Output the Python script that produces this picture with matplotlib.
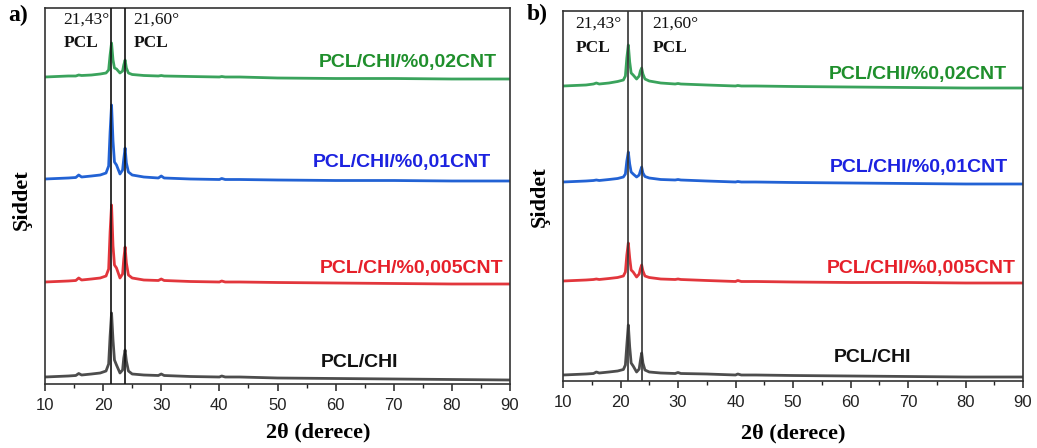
import matplotlib
matplotlib.use("Agg")
import matplotlib.pyplot as plt
from matplotlib.ticker import MultipleLocator

W, H = 1037, 448

# ---------------- data ----------------
two_theta_a = [10, 12, 14, 15.3, 15.8, 16.3, 18, 19.5, 20.5, 20.95, 21.2, 21.45, 21.7, 21.95,
               22.3, 22.9, 23.35, 23.55, 23.78, 24.0, 24.35, 25, 27, 29.5, 30, 30.5, 35, 40,
               40.4, 41, 43.5, 50, 60, 70, 80, 90]
a_pcl_chi = [7, 7.5, 8, 8.5, 10.5, 9, 10, 11, 13, 20, 48, 71, 44, 24,
             19, 11, 14, 26, 34, 23, 13, 10, 9, 8.5, 10, 8.5, 7.5, 7,
             8, 7, 7, 6, 5.5, 5, 4.5, 4]
a_cnt005 = [102, 102.5, 103, 103.5, 106, 104, 105, 106, 108, 115, 152, 179, 138, 119,
            116, 106, 110, 125, 137, 121, 109, 106, 104, 103.5, 105, 103.5, 102.5, 102,
            103, 102, 102, 101.5, 101, 100.5, 100, 100]
a_cnt01 = [205, 205.5, 206, 206.5, 209, 207, 208, 209, 211, 218, 252, 279, 243, 222,
           219, 210, 214, 225, 236, 221, 212, 209, 207, 206, 208, 206, 205, 204.5,
           205.5, 204.5, 204.5, 204, 203.5, 203.5, 203, 203]
a_cnt02 = [307, 307.5, 308, 308, 309, 308.5, 309, 310, 311, 314, 329, 341, 324, 316,
           315, 311, 313, 319, 324, 316, 311, 309.5, 308.5, 308, 308.5, 308, 307.5, 307,
           307.5, 307, 307, 306, 305.5, 305.5, 305, 305]

two_theta_b = [10, 12, 14, 15.3, 15.8, 16.3, 18, 19.5, 20.5, 20.85, 21.1, 21.36, 21.6, 21.85,
               22.2, 22.8, 23.25, 23.45, 23.68, 23.9, 24.25, 25, 27, 29.5, 30, 30.5, 35, 40,
               40.4, 41, 43.5, 50, 60, 70, 80, 90]
b_pcl_chi = [6, 6.5, 7, 7.5, 9, 8, 9, 10, 11.5, 16, 36, 56, 34, 18,
             15, 9, 12, 20, 28, 18, 11, 9, 8, 7.5, 8.5, 7.5, 7, 6,
             7, 6, 6, 5.5, 5, 4.5, 4, 4]
b_cnt005 = [100, 100.5, 101, 101.5, 102, 101.5, 102.5, 103.5, 105, 109, 126, 138, 123, 111,
            109, 104, 107, 112, 116, 110, 105, 103.5, 102, 101.5, 102, 101.5, 100.5, 99.5,
            100.5, 99.5, 99.5, 99, 98.5, 98.5, 98, 98]
b_cnt01 = [199, 199.5, 200, 200.5, 201, 200.5, 201.5, 202.5, 204, 207, 220, 229, 217, 209,
           207, 204, 206, 210, 214, 208, 204.5, 203, 201.5, 201, 201.5, 201, 200, 199,
           199.5, 199, 199, 198.5, 198, 197.5, 197, 197]
b_cnt02 = [295, 295.5, 296, 297, 298, 297, 298, 299.5, 301, 305, 323, 336, 319, 308,
           306, 302, 305, 310, 313, 307, 302, 300, 298, 297, 297.5, 297, 296, 295,
           295.5, 295, 295, 294.5, 294, 293.5, 293, 293]

peak_lines_a = [21.4, 23.8]
peak_lines_b = [21.36, 23.68]
peak_texts = ["21,43°", "21,60°"]

labels_a = ["PCL/CHI", "PCL/CH/%0,005CNT", "PCL/CHI/%0,01CNT", "PCL/CHI/%0,02CNT"]
labels_b = ["PCL/CHI", "PCL/CHI/%0,005CNT", "PCL/CHI/%0,01CNT", "PCL/CHI/%0,02CNT"]

line_colors = ["#4d4d4d", "#e2363c", "#2262d4", "#3aa35c"]
text_colors = ["#111111", "#e6202a", "#1c22e0", "#1f8f2c"]

# ---------------- figure ----------------
fig = plt.figure(figsize=(W / 100, H / 100), dpi=100)


def fx(x):
    return x / W


def fy(y):
    return 1 - y / H


def make_axes(l, t, r, b, ymax):
    ax = fig.add_axes([fx(l), fy(b), (r - l) / W, (b - t) / H])
    ax.set_xlim(10, 90)
    ax.set_ylim(0, ymax)
    ax.set_yticks([])
    ax.xaxis.set_major_locator(MultipleLocator(10))
    ax.xaxis.set_minor_locator(MultipleLocator(5))
    ax.tick_params(axis="x", which="major", direction="out", length=5, width=1.1,
                   labelsize=12, pad=5, colors="#222222", labelcolor="#222222")
    ax.tick_params(axis="x", which="minor", direction="out", length=3, width=1.0,
                   colors="#222222")
    for lab in ax.get_xticklabels():
        lab.set_fontfamily("Liberation Sans")
    for s in ax.spines.values():
        s.set_linewidth(1.2)
        s.set_color("#333333")
    return ax


ax_a = make_axes(45, 8, 510, 384, 376)
ax_b = make_axes(563, 11, 1023, 381, 370)

series_a = [a_pcl_chi, a_cnt005, a_cnt01, a_cnt02]
series_b = [b_pcl_chi, b_cnt005, b_cnt01, b_cnt02]

for ys, c in zip(series_a, line_colors):
    ax_a.plot(two_theta_a, ys, color=c, lw=2.0, solid_joinstyle="round", zorder=2)
for ys, c in zip(series_b, line_colors):
    ax_b.plot(two_theta_b, ys, color=c, lw=2.0, solid_joinstyle="round", zorder=2)

for xv in peak_lines_a:
    ax_a.axvline(xv, color="#111111", lw=1.2, zorder=3)
for xv in peak_lines_b:
    ax_b.axvline(xv, color="#333333", lw=1.2, zorder=3)

sans_bold = dict(fontfamily="Liberation Sans", fontweight="bold", fontsize=14)
serif = dict(fontfamily="Liberation Serif")

# series labels (right aligned)
pos_a = [(398, 362), (503, 268), (491, 162), (497, 62)]
pos_b = [(911, 357), (1016, 268), (1008, 167), (1007, 74)]
for lab, (x, y), c in zip(labels_a, pos_a, text_colors):
    fig.text(fx(x), fy(y), lab, color=c, ha="right", va="center", **sans_bold)
for lab, (x, y), c in zip(labels_b, pos_b, text_colors):
    fig.text(fx(x), fy(y), lab, color=c, ha="right", va="center", **sans_bold)

# peak annotations
for (x1, x2, yt, yp) in [(63, 133, 20, 43), (575, 652, 24, 48)]:
    for x, t in zip((x1, x2), peak_texts):
        fig.text(fx(x), fy(yt), t, ha="left", va="center", fontsize=12.5,
                 color="#111111", **serif)
        fig.text(fx(x + 1), fy(yp), "PCL", ha="left", va="center", fontsize=12.5,
                 fontweight="bold", color="#111111", **serif)

# panel letters
fig.text(fx(8), fy(15), "a)", ha="left", va="center", fontsize=17,
         fontweight="bold", **serif)
fig.text(fx(527), fy(14), "b)", ha="left", va="center", fontsize=17,
         fontweight="bold", **serif)

# y labels
fig.text(fx(22), fy(200), "Şiddet", rotation=90, ha="center", va="center",
         fontsize=16, fontweight="bold", **serif)
fig.text(fx(540), fy(197), "Şiddet", rotation=90, ha="center", va="center",
         fontsize=16, fontweight="bold", **serif)

# x labels
fig.text(fx(318), fy(432), "2θ (derece)", ha="center", va="center",
         fontsize=16, fontweight="bold", **serif)
fig.text(fx(793), fy(433), "2θ (derece)", ha="center", va="center",
         fontsize=16, fontweight="bold", **serif)

fig.savefig("out.png", dpi=100)
